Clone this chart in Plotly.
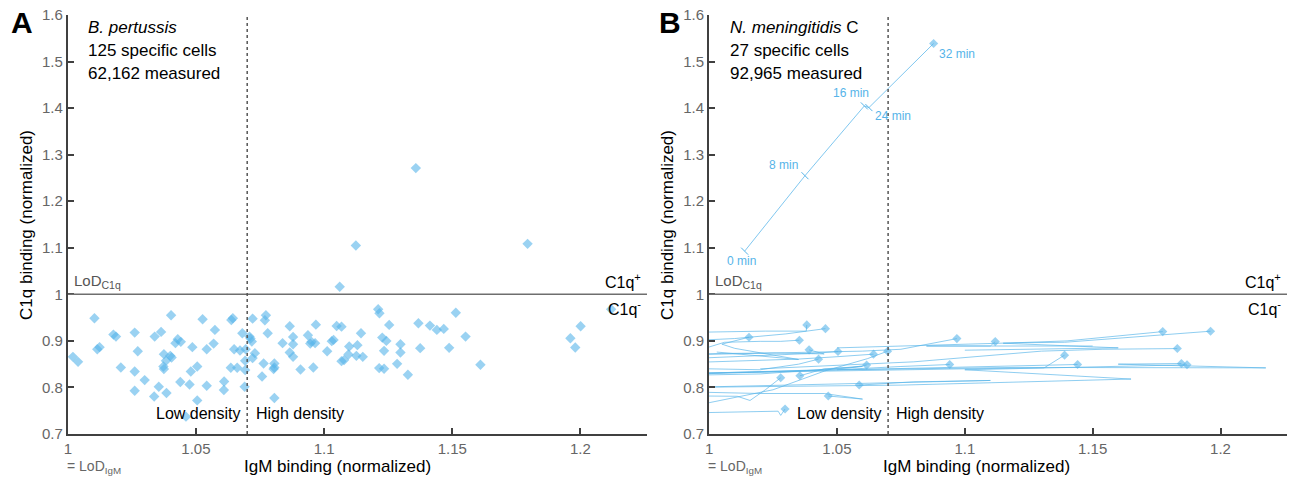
import plotly.graph_objects as go

# ---------------- data ----------------
# Panel A: B. pertussis specific cells (IgM, C1q normalized)
bp_igm = [1.0104, 1.0403, 1.0526, 1.0178, 1.0188, 1.0261, 1.0339, 1.0364, 1.0429, 1.0420,
          1.0441, 1.0115, 1.0124, 1.0273, 1.0375, 1.0400, 1.0405, 1.0383, 1.0486, 1.0542,
          1.0020, 1.0040, 1.0207, 1.0261, 1.0373, 1.0375, 1.0480, 1.0505, 1.0300, 1.0261,
          1.0355, 1.0439, 1.0475, 1.0337, 1.0385, 1.0505, 1.0542, 1.0461,
          1.0638, 1.0644, 1.0721, 1.0773, 1.0769, 1.0574, 1.0681, 1.0780, 1.0866, 1.0968,
          1.1049, 1.1068, 1.0709, 1.0713, 1.0718, 1.0879, 1.0937, 1.0838, 1.0879, 1.0946,
          1.0951, 1.0965, 1.1030, 1.1037, 1.1098, 1.0569, 1.0649, 1.0672, 1.0694, 1.0730,
          1.0721, 1.0866, 1.0879, 1.1012, 1.1095, 1.0692, 1.0764, 1.0806, 1.0806, 1.0803,
          1.0636, 1.0661, 1.0692, 1.0908, 1.0958, 1.1068, 1.1078, 1.0758, 1.0610, 1.0609,
          1.0690, 1.0806,
          1.1061, 1.1211, 1.1216, 1.1514, 1.1254, 1.1368, 1.1413, 1.1440, 1.1467, 1.1144,
          1.1227, 1.1243, 1.1552, 1.1130, 1.1298, 1.1234, 1.1298, 1.1375, 1.1488, 1.1126,
          1.1151, 1.1215, 1.1234, 1.1285, 1.1610, 1.1327, 1.2001, 1.1961, 1.1980, 1.2120,
          1.1124, 1.1794, 1.1358]
bp_c1q = [0.9486, 0.9550, 0.9465, 0.9135, 0.9092, 0.9178, 0.9092, 0.9193, 0.9036, 0.8951,
          0.8979, 0.8822, 0.8865, 0.8779, 0.8715, 0.8679, 0.8642, 0.8572, 0.8865, 0.8822,
          0.8657, 0.8550, 0.8428, 0.8343, 0.8450, 0.8394, 0.8343, 0.8450, 0.8158, 0.7929,
          0.8015, 0.8116, 0.8064, 0.7807, 0.7880, 0.7722, 0.8036, 0.7373,
          0.9450, 0.9486, 0.9478, 0.9550, 0.9443, 0.9236, 0.9165, 0.9165, 0.9315, 0.9349,
          0.9321, 0.9306, 0.9092, 0.9049, 0.8985, 0.9086, 0.9122, 0.8951, 0.8929, 0.8942,
          0.8979, 0.8951, 0.8994, 0.9021, 0.8878, 0.8942, 0.8822, 0.8792, 0.8822, 0.8737,
          0.8630, 0.8749, 0.8657, 0.8779, 0.8707, 0.8572, 0.8514, 0.8514, 0.8428, 0.8394,
          0.8422, 0.8422, 0.8373, 0.8385, 0.8428, 0.8565, 0.8587, 0.8236, 0.8128, 0.7944,
          0.8015, 0.7773,
          1.0163, 0.9679, 0.9593, 0.9606, 0.9343, 0.9379, 0.9328, 0.9236, 0.9257, 0.9165,
          0.9071, 0.9000, 0.9092, 0.8908, 0.8929, 0.8786, 0.8749, 0.8844, 0.8850, 0.8679,
          0.8657, 0.8415, 0.8400, 0.8507, 0.8486, 0.8272, 0.9315, 0.9058, 0.8857, 0.9679,
          1.1049, 1.1084, 1.2711]

# Panel B: N. meningitidis C tracks (IgM, C1q over time; last point = 32 min)
nm_track_igm = [
    [0.990, 1.008, 1.022, 1.038, 1.0382],
    [0.990, 1.010, 1.030, 1.038, 1.0455],
    [1.003, 1.035, 1.010, 1.005, 1.0156],
    [0.990, 1.006, 1.020, 1.028, 1.0353],
    [0.990, 1.005, 1.025, 1.045, 1.0391],
    [0.992, 1.010, 1.030, 1.040, 1.0504],
    [0.990, 1.015, 1.035, 1.050, 1.0643],
    [0.998, 1.025, 1.045, 1.062, 1.0698],
    [0.990, 1.000, 1.020, 1.035, 1.0428],
    [0.995, 1.020, 1.045, 1.055, 1.0616],
    [0.990, 1.011, 1.016, 1.022, 1.0280],
    [0.990, 1.020, 1.060, 1.045, 1.0355],
    [0.990, 1.030, 1.110, 1.080, 1.0587],
    [0.995, 1.020, 1.045, 1.060, 1.0466],
    [0.990, 1.015, 1.027, 1.028, 1.0297],
    [0.990, 1.030, 1.060, 1.075, 1.0969],
    [1.150, 1.120, 1.085, 1.110, 1.1119],
    [1.100, 1.160, 1.115, 1.140, 1.1774],
    [1.050, 1.090, 1.120, 1.139, 1.1961],
    [1.020, 1.080, 1.130, 1.154, 1.1831],
    [0.990, 1.020, 1.050, 1.075, 1.0941],
    [0.990, 1.040, 1.100, 1.131, 1.1390],
    [0.990, 1.040, 1.080, 1.120, 1.1441],
    [1.050, 1.120, 1.2177, 1.160, 1.1847],
    [0.990, 1.075, 1.165, 1.100, 1.1869],
]
nm_track_c1q = [
    [0.918, 0.920, 0.921, 0.921, 0.9343],
    [0.900, 0.905, 0.915, 0.921, 0.9263],
    [0.876, 0.860, 0.884, 0.893, 0.9079],
    [0.870, 0.897, 0.899, 0.899, 0.9015],
    [0.871, 0.873, 0.874, 0.872, 0.8807],
    [0.862, 0.866, 0.870, 0.873, 0.8771],
    [0.853, 0.858, 0.861, 0.866, 0.8715],
    [0.765, 0.795, 0.835, 0.862, 0.8779],
    [0.835, 0.840, 0.838, 0.850, 0.8608],
    [0.830, 0.834, 0.838, 0.842, 0.8480],
    [0.782, 0.781, 0.772, 0.795, 0.8208],
    [0.826, 0.829, 0.845, 0.840, 0.8251],
    [0.800, 0.805, 0.815, 0.812, 0.8051],
    [0.790, 0.787, 0.787, 0.775, 0.7816],
    [0.745, 0.748, 0.749, 0.740, 0.7537],
    [0.870, 0.874, 0.878, 0.882, 0.9049],
    [0.889, 0.889, 0.889, 0.889, 0.8985],
    [0.880, 0.885, 0.895, 0.900, 0.9199],
    [0.885, 0.892, 0.896, 0.897, 0.9208],
    [0.840, 0.855, 0.878, 0.882, 0.8835],
    [0.828, 0.833, 0.838, 0.845, 0.8493],
    [0.830, 0.835, 0.840, 0.842, 0.8694],
    [0.830, 0.836, 0.840, 0.845, 0.8493],
    [0.838, 0.843, 0.842, 0.850, 0.8514],
    [0.800, 0.805, 0.818, 0.838, 0.8486],
]
# highlighted example cell
ex_igm = [1.0139, 1.0375, 1.0607, 1.0625, 1.0878]
ex_c1q = [1.0927, 1.2548, 1.4047, 1.4011, 1.5388]
ex_labels = ["0 min", "8 min", "16 min", "24 min", "32 min"]
ex_label_x = [1.0126, 1.0290, 1.0556, 1.0718, 1.0970]
ex_label_y = [1.0713, 1.2769, 1.4330, 1.3820, 1.5167]

y_ticks = [0.7, 0.8, 0.9, 1.0, 1.1, 1.2, 1.3, 1.4, 1.5, 1.6]
y_ticktext = ["0.7", "0.8", "0.9", "1", "1.1", "1.2", "1.3", "1.4", "1.5", "1.6"]
x_ticks = [1.0, 1.05, 1.1, 1.15, 1.2]
x_ticktext = ["1", "1.05", "1.1", "1.15", "1.2"]
lod_c1q = 1.0
density_split = 1.07
x_range = [1.0, 1.226]
y_range = [0.7, 1.6]

# ---------------- style ----------------
FONT = "Liberation Sans, Arial, Helvetica, sans-serif"
BLUE = "#56B4E9"
MARK_FILL = "rgba(86,180,233,0.6)"
LINE_BLUE = "rgba(86,180,233,0.75)"
AX = "#404040"
W, H = 1291, 479
ML, MR, MT, MB = 0, 0, 15, 45

fig = go.Figure()

# Panel A points
fig.add_trace(go.Scatter(x=bp_igm, y=bp_c1q, mode="markers", xaxis="x", yaxis="y",
                         marker=dict(symbol="diamond", size=8, color=MARK_FILL,
                                     line=dict(width=0)),
                         showlegend=False, hoverinfo="skip"))

# Panel B tracks
for tx, ty in zip(nm_track_igm, nm_track_c1q):
    fig.add_trace(go.Scatter(x=tx, y=ty, mode="lines", xaxis="x2", yaxis="y2",
                             line=dict(color=LINE_BLUE, width=0.9),
                             showlegend=False, hoverinfo="skip"))
end_x = [t[-1] for t in nm_track_igm]
end_y = [t[-1] for t in nm_track_c1q]
fig.add_trace(go.Scatter(x=end_x, y=end_y, mode="markers", xaxis="x2", yaxis="y2",
                         marker=dict(symbol="diamond", size=7, color=MARK_FILL,
                                     line=dict(width=0)),
                         showlegend=False, hoverinfo="skip"))
# highlighted track
fig.add_trace(go.Scatter(x=ex_igm, y=ex_c1q, mode="lines", xaxis="x2", yaxis="y2",
                         line=dict(color=LINE_BLUE, width=1),
                         showlegend=False, hoverinfo="skip"))
fig.add_trace(go.Scatter(x=ex_igm[:-1], y=ex_c1q[:-1], mode="markers", xaxis="x2", yaxis="y2",
                         marker=dict(symbol="line-nw", size=7, color=BLUE,
                                     line=dict(color=BLUE, width=1)),
                         showlegend=False, hoverinfo="skip"))
fig.add_trace(go.Scatter(x=ex_igm[-1:], y=ex_c1q[-1:], mode="markers", xaxis="x2", yaxis="y2",
                         marker=dict(symbol="diamond", size=7, color=MARK_FILL,
                                     line=dict(width=0)),
                         showlegend=False, hoverinfo="skip"))
for lx, ly, lt in zip(ex_label_x, ex_label_y, ex_labels):
    fig.add_annotation(x=lx, y=ly, xref="x2", yref="y2", text=lt, showarrow=False,
                       font=dict(family=FONT, size=12, color=BLUE),
                       xanchor="center", yanchor="middle")

def px2paper(px):
    return px / W

axis_common = dict(showgrid=False, zeroline=False, showline=True,
                   linecolor=AX, linewidth=2, ticks="inside", ticklen=6,
                   tickwidth=1.5, tickcolor=AX, mirror=False,
                   tickfont=dict(family=FONT, size=15, color="#666666"))

xdoms = [[64 / W, 645 / W], [707.3 / W, 1287 / W]]
layout = dict(width=W, height=H, margin=dict(l=ML, r=MR, t=MT, b=MB),
              paper_bgcolor="white", plot_bgcolor="white", showlegend=False)
for i, dom in enumerate(xdoms):
    sfx = "" if i == 0 else "2"
    layout["xaxis" + sfx] = dict(axis_common, domain=dom, range=x_range,
                                 tickvals=x_ticks, ticktext=x_ticktext,
                                 anchor="y" + sfx)
    layout["yaxis" + sfx] = dict(axis_common, domain=[0, 1], range=y_range,
                                 tickvals=y_ticks, ticktext=y_ticktext,
                                 anchor="x" + sfx)
fig.update_layout(**layout)

panels = [
    dict(xr="x", yr="y", letter="A", letter_px=18, title_lines=["<i>B. pertussis</i>",
         "125 specific cells", "62,162 measured"], ytitle_px=22, xtitle_px=335, lod_px=64),
    dict(xr="x2", yr="y2", letter="B", letter_px=668, title_lines=["<i>N. meningitidis</i> C",
         "27 specific cells", "92,965 measured"], ytitle_px=665, xtitle_px=976, lod_px=707),
]

def ypaper(py):
    return (H - MB - py) / (H - MT - MB)

for p in panels:
    xr, yr = p["xr"], p["yr"]
    fig.add_shape(type="line", xref=xr, yref=yr, x0=x_range[0], x1=x_range[1],
                  y0=lod_c1q, y1=lod_c1q, line=dict(color="#6e6e6e", width=1.5))
    fig.add_shape(type="line", xref=xr, yref=yr, x0=density_split, x1=density_split,
                  y0=y_range[0], y1=y_range[1],
                  line=dict(color="#555555", width=1.5, dash="3px,3px"))
    fig.add_annotation(x=px2paper(p["letter_px"]), y=ypaper(22), xref="paper", yref="paper",
                       text="<b>" + p["letter"] + "</b>", showarrow=False,
                       font=dict(family=FONT, size=30, color="black"),
                       xanchor="center", yanchor="middle")
    for t, py in zip(p["title_lines"], [26, 49, 72]):
        fig.add_annotation(x=1.0072, y=1 + (293.3 - py) / 467, xref=xr, yref=yr, text=t,
                           showarrow=False, font=dict(family=FONT, size=17, color="black"),
                           xanchor="left", yanchor="middle")
    fig.add_annotation(x=1.0015, y=1.003, xref=xr, yref=yr,
                       text="LoD<sub>C1q</sub>", showarrow=False,
                       font=dict(family=FONT, size=15, color="#555555"),
                       xanchor="left", yanchor="bottom")
    fig.add_annotation(x=1.2245, y=1.003, xref=xr, yref=yr, text="C1q<sup>+</sup>",
                       showarrow=False, font=dict(family=FONT, size=16, color="black"),
                       xanchor="right", yanchor="bottom")
    fig.add_annotation(x=1.2245, y=0.997, xref=xr, yref=yr, text="C1q<sup>-</sup>",
                       showarrow=False, font=dict(family=FONT, size=16, color="black"),
                       xanchor="right", yanchor="top")
    fig.add_annotation(x=density_split - 0.0015, y=0.744, xref=xr, yref=yr,
                       text="Low density", showarrow=False,
                       font=dict(family=FONT, size=16, color="black"),
                       xanchor="right", yanchor="middle")
    fig.add_annotation(x=density_split + 0.0025, y=0.744, xref=xr, yref=yr,
                       text="High density", showarrow=False,
                       font=dict(family=FONT, size=16, color="black"),
                       xanchor="left", yanchor="middle")
    fig.add_annotation(x=px2paper(p["lod_px"] - 3), y=ypaper(467), xref="paper", yref="paper",
                       text="= LoD<sub>IgM</sub>", showarrow=False,
                       font=dict(family=FONT, size=14, color="#666666"),
                       xanchor="left", yanchor="middle")
    fig.add_annotation(x=px2paper(p["xtitle_px"]), y=ypaper(466), xref="paper", yref="paper",
                       text="IgM binding (normalized)", showarrow=False,
                       font=dict(family=FONT, size=17, color="black"),
                       xanchor="center", yanchor="middle")
    fig.add_annotation(x=px2paper(p["ytitle_px"]), y=ypaper(225), xref="paper", yref="paper",
                       text="C1q binding (normalized)", showarrow=False, textangle=-90,
                       font=dict(family=FONT, size=17, color="black"),
                       xanchor="center", yanchor="middle")

fig.write_html("out.html", config={"displayModeBar": False},
               post_script="document.body.style.margin='0px';document.body.style.overflow='hidden';")
